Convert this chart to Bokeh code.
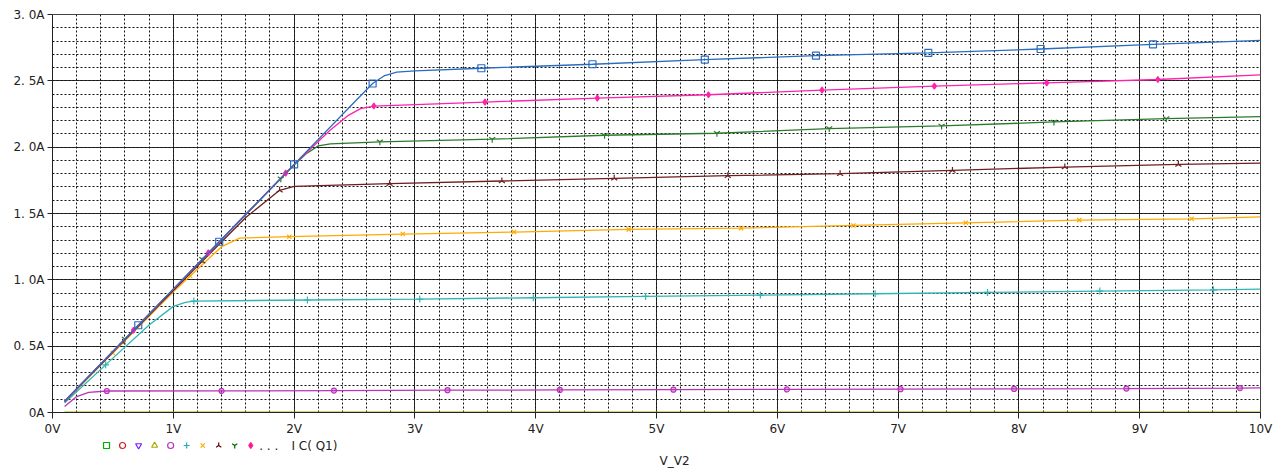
import numpy as np
from bokeh.plotting import figure
from bokeh.models import Range1d, FixedTicker, Label
from bokeh.layouts import column
from bokeh.embed import file_html
from bokeh.resources import INLINE

# Collector current I C(Q1) versus sweep voltage V_V2, one trace per base step
x_ticks = [0, 1, 2, 3, 4, 5, 6, 7, 8, 9, 10]
x_tick_labels = ["0V", "1V", "2V", "3V", "4V", "5V", "6V", "7V", "8V", "9V", "10V"]
y_ticks = [0.0, 0.5, 1.0, 1.5, 2.0, 2.5, 3.0]
y_tick_labels = ["0A", "0. 5A", "1. 0A", "1. 5A", "2. 0A", "2. 5A", "3. 0A"]

# trace 1 (blue, squares)
v_blue = [0.1, 1.0, 2.0, 2.5, 2.65, 2.75, 2.85, 3.0, 3.55, 4.47, 5.4, 6.32, 7.25, 8.18, 9.11, 10.0]
i_blue = [0.085, 0.93, 1.87, 2.34, 2.48, 2.54, 2.565, 2.575, 2.595, 2.625, 2.66, 2.69, 2.71, 2.74, 2.775, 2.805]
m_blue = [0.71, 1.38, 2.0, 2.65, 3.55, 4.47, 5.4, 6.32, 7.25, 8.18, 9.11]

# trace 2 (pink)
v_pink = [0.1, 1.0, 2.0, 2.3, 2.45, 2.55, 2.66, 3.58, 4.51, 5.43, 6.37, 7.3, 8.23, 9.15, 10.0]
i_pink = [0.085, 0.93, 1.87, 2.13, 2.24, 2.29, 2.31, 2.34, 2.37, 2.395, 2.43, 2.46, 2.485, 2.51, 2.545]
m_pink = [0.67, 1.29, 1.93, 2.66, 3.58, 4.51, 5.43, 6.37, 7.3, 8.23, 9.15]

# trace 3 (green)
v_green = [0.1, 1.0, 2.0, 2.1, 2.2, 2.3, 2.71, 3.64, 4.57, 5.5, 6.43, 7.36, 8.29, 9.22, 10.0]
i_green = [0.085, 0.93, 1.865, 1.95, 2.01, 2.025, 2.04, 2.06, 2.09, 2.105, 2.14, 2.16, 2.19, 2.215, 2.23]
m_green = [0.6, 1.24, 1.89, 2.71, 3.64, 4.57, 5.5, 6.43, 7.36, 8.29, 9.22]

# trace 4 (dark red)
v_dred = [0.1, 1.0, 1.6, 1.88, 2.0, 2.79, 3.72, 4.65, 5.59, 6.52, 7.45, 8.38, 9.32, 10.0]
i_dred = [0.083, 0.92, 1.47, 1.675, 1.705, 1.725, 1.745, 1.765, 1.785, 1.80, 1.825, 1.85, 1.87, 1.88]
m_dred = [0.58, 1.24, 1.88, 2.79, 3.72, 4.65, 5.59, 6.52, 7.45, 8.38, 9.32]

# trace 5 (orange)
v_orange = [0.1, 1.0, 1.4, 1.55, 1.96, 2.9, 3.82, 4.77, 5.7, 6.63, 7.56, 8.5, 9.43, 10.0]
i_orange = [0.08, 0.91, 1.25, 1.315, 1.325, 1.345, 1.36, 1.38, 1.39, 1.41, 1.43, 1.45, 1.46, 1.475]
m_orange = [0.5, 1.14, 1.96, 2.9, 3.82, 4.77, 5.7, 6.63, 7.56, 8.5, 9.43]

# trace 6 (cyan)
v_cyan = [0.1, 0.5, 0.8, 1.0, 1.1, 1.17, 2.11, 3.04, 3.98, 4.91, 5.86, 6.81, 7.74, 8.67, 9.61, 10.0]
i_cyan = [0.072, 0.41, 0.66, 0.80, 0.83, 0.84, 0.848, 0.855, 0.865, 0.875, 0.885, 0.895, 0.905, 0.915, 0.925, 0.93]
m_cyan = [0.44, 1.17, 2.11, 3.04, 3.98, 4.91, 5.86, 6.81, 7.74, 8.67, 9.61]

# trace 7 (magenta)
v_mag = [0.1, 0.2, 0.3, 0.45, 1.4, 2.33, 3.27, 4.2, 5.14, 6.08, 7.02, 7.96, 8.89, 9.83, 10.0]
i_mag = [0.045, 0.12, 0.152, 0.162, 0.163, 0.165, 0.168, 0.17, 0.172, 0.174, 0.176, 0.178, 0.18, 0.184, 0.185]
m_mag = [0.45, 1.4, 2.33, 3.27, 4.2, 5.14, 6.08, 7.02, 7.96, 8.89, 9.83]

# trace 8 (olive, cut-off)
v_olive = [0.1, 10.0]
i_olive = [0.0, 0.0]

# (voltages, currents, marker positions, colour, marker, angle, line width, marker size, marker fill alpha)
traces = [
    (v_olive, i_olive, [], "#a8a800", None, 0.0, 2.0, 0, 0),
    (v_mag, i_mag, m_mag, "#bb33bb", "circle", 0.0, 1.3, 5, 0.35),
    (v_cyan, i_cyan, m_cyan, "#2fb5b5", "cross", 0.0, 1.3, 7, 0),
    (v_orange, i_orange, m_orange, "#ffaa00", "x", 0.0, 1.3, 6, 0),
    (v_dred, i_dred, m_dred, "#6e1f1f", "y", np.pi, 1.3, 7, 0),
    (v_green, i_green, m_green, "#2b7a2b", "y", 0.0, 1.3, 7, 0),
    (v_pink, i_pink, m_pink, "#ff22aa", "diamond", 0.0, 1.3, 6, 1.0),
    (v_blue, i_blue, m_blue, "#2a6cc0", "square", 0.0, 1.3, 7, 0),
]

# legend symbols in trace order
legend_markers = ["square", "circle", "inverted_triangle", "triangle", "circle",
                  "cross", "x", "y", "y", "diamond"]
legend_angles = [0, 0, 0, 0, 0, 0, 0, np.pi, 0, 0]
legend_colors = ["#00b000", "#cc2020", "#7a1cff", "#a8a800", "#bb33bb",
                 "#20b0b0", "#ffaa00", "#600000", "#006000", "#ff1a8c"]
legend_label = "I C( Q1)"
x_title = "V_V2"

FONT = "DejaVu Sans"

p = figure(width=1274, height=437, x_range=Range1d(0, 10), y_range=Range1d(0, 3),
           output_backend="svg", toolbar_location=None,
           frame_width=1208, frame_height=398,
           min_border_left=52, min_border_right=14, min_border_top=14, min_border_bottom=25)
p.background_fill_color = "white"
p.border_fill_color = "white"
p.outline_line_color = "#444444"
p.outline_line_width = 1

p.xaxis.ticker = FixedTicker(ticks=x_ticks, minor_ticks=list(np.round(np.arange(0, 10.01, 0.2), 2)))
p.yaxis.ticker = FixedTicker(ticks=y_ticks, minor_ticks=list(np.round(np.arange(0, 3.01, 0.1), 2)))
p.xaxis.major_label_overrides = {t: s for t, s in zip(x_ticks, x_tick_labels)}
p.yaxis.major_label_overrides = {t: s for t, s in zip(y_ticks, y_tick_labels)}

for ax in (p.xaxis, p.yaxis):
    ax.axis_line_color = "#222222"
    ax.major_tick_line_color = "#222222"
    ax.major_tick_in = 0
    ax.major_tick_out = 6
    ax.minor_tick_line_color = None
    ax.major_label_text_font = FONT
    ax.major_label_text_font_size = "12px"
    ax.major_label_text_color = "#222222"
    ax.major_label_standoff = 3
p.yaxis.major_tick_out = 5

for g in (p.xgrid, p.ygrid):
    g.grid_line_color = "#111111"
    g.grid_line_width = 1
    g.grid_line_alpha = 0.85
    g.minor_grid_line_color = "#111111"
    g.minor_grid_line_dash = "2 2"
    g.minor_grid_line_width = 1

for v, i, marks, color, marker, ang, lw, msize, falpha in traces:
    p.line(v, i, line_color=color, line_width=lw)
    if marks:
        mi = np.interp(marks, v, i)
        p.scatter(marks, mi, marker=marker, angle=ang, size=msize,
                  line_color=color, fill_color=color, fill_alpha=falpha,
                  line_width=1.2)

# legend strip and axis title beneath the plot
leg = figure(width=1274, height=32, x_range=Range1d(0, 1274), y_range=Range1d(32, 0),
             output_backend="svg", toolbar_location=None,
             x_axis_type=None, y_axis_type=None, min_border=0)
leg.outline_line_color = None
leg.grid.visible = False
lx = [57 + 16.9 * k for k in range(len(legend_markers))]
for xk, mk, an, col in zip(lx, legend_markers, legend_angles, legend_colors):
    filled = mk == "diamond"
    leg.scatter([xk], [7], marker=mk, angle=an, size=6, line_color=col,
                fill_color=col if filled else None, line_width=1.2)
leg.add_layout(Label(x=218, y=7, text=". . .", text_font=FONT, text_font_size="12px",
                     text_baseline="middle", text_color="#222222"))
leg.add_layout(Label(x=252, y=7, text=legend_label, text_font=FONT, text_font_size="12px",
                     text_baseline="middle", text_color="#222222"))
leg.add_layout(Label(x=656, y=22, text=x_title, text_font=FONT, text_font_size="12px",
                     text_baseline="middle", text_align="center", text_color="#222222"))

layout = column(p, leg, spacing=0)
open("out.html", "w").write(file_html(layout, INLINE))
